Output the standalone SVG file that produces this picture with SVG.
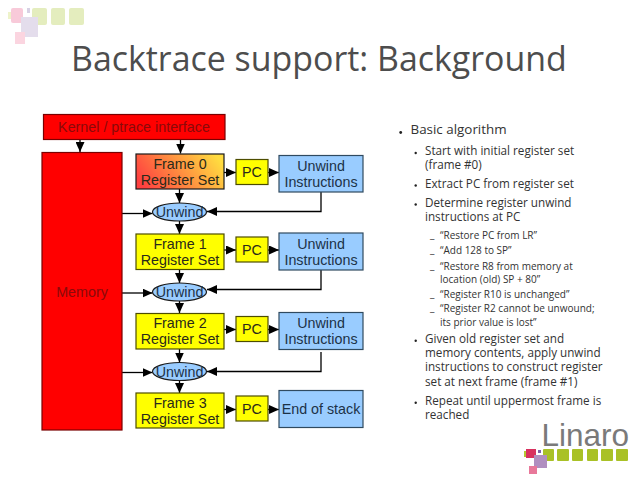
<svg xmlns="http://www.w3.org/2000/svg" width="638" height="479" viewBox="0 0 638 479">
<style>
.n{stroke:#1a1a1a;stroke-width:1.2}
.y{fill:#ffff00;stroke:#4d4d00}
.b{fill:#99ccff;stroke:#2f4a60}
.r{fill:#ff0000;stroke:#7a0000}
.t{font-family:"Liberation Sans",Arial,sans-serif;font-size:14.3px;text-anchor:middle;fill:#2a2a1a}
.rt{fill:#8a0a0a}
.bt{fill:#1c3247}
.c{fill:none;stroke:#000;stroke-width:1.3;marker-end:url(#a)}
.l{font-family:"Open Sans","Noto Sans",sans-serif;fill:#333}
.l1{font-size:13.4px}
.l2{font-size:11.7px}
.l3{font-size:10px}
</style>
<defs>
<marker id="a" markerUnits="userSpaceOnUse" markerWidth="11" markerHeight="9" refX="10" refY="4.5" orient="auto"><path d="M0 0L10 4.5L0 9z" fill="#000"/></marker>
<linearGradient id="g" x1="0" y1="0.65" x2="1" y2="0.35"><stop offset="0" stop-color="#ff4040"/><stop offset="1" stop-color="#ffdc40"/></linearGradient>
</defs>
<rect width="638" height="479" fill="#fff"/>
<g id="logo-top" opacity="0.95">
<rect x="8" y="12" width="5" height="7" fill="#eef3c8"/>
<rect x="32" y="8" width="15" height="17" rx="2" fill="#e3edbb"/>
<rect x="11" y="8" width="12" height="15" rx="2" fill="#f8c8d8"/>
<rect x="51" y="8" width="14" height="17" rx="2" fill="#e3edbb"/>
<rect x="69" y="8" width="15" height="17" rx="2" fill="#e3edbb"/>
<rect x="27" y="8" width="3" height="5" fill="#d5cfe3"/>
<rect x="21" y="17" width="17" height="20" fill="#e3dcec"/>
<rect x="15" y="32" width="10" height="12" fill="#fbd3df"/>
</g>
<text x="71" y="71" font-family="Open Sans, Noto Sans, sans-serif" font-size="33.900px" fill="#4d4d4d" id="title">Backtrace support: Background</text>
<g id="connectors">
<path class="c" d="M80 139.500V152"/>
<path class="c" d="M180.500 139.500V153.500"/>
<path class="c" d="M224 172.500H236"/>
<path class="c" d="M268 172.500H279"/>
<path class="c" d="M179.500 189V203"/>
<path class="c" d="M122 213.500H152.500"/>
<path class="c" d="M321 192V211.500H207"/>
<path class="c" d="M179.500 221V234"/>
<path class="c" d="M224 250H236"/>
<path class="c" d="M268 250H279"/>
<path class="c" d="M179.500 269.500V283"/>
<path class="c" d="M122 293H152.500"/>
<path class="c" d="M321 270V289.500H207"/>
<path class="c" d="M179.500 301V313"/>
<path class="c" d="M224 329.500H236"/>
<path class="c" d="M268 329.500H279"/>
<path class="c" d="M179.500 349V362.500"/>
<path class="c" d="M122 372.500H152.500"/>
<path class="c" d="M321 352V371.500H207"/>
<path class="c" d="M179.500 380.500V393"/>
<path class="c" d="M224 409.500H236"/>
<path class="c" d="M268 409.500H279"/>
</g>
<g id="kernel"><rect class="n r" x="43.500" y="114.500" width="181.500" height="25"/><text class="t rt" x="134" y="132">Kernel / ptrace interface</text></g>
<g id="memory"><rect class="n r" x="42" y="152.500" width="80" height="277.500"/><text class="t rt" x="82" y="297">Memory</text></g>
<g id="frame0"><rect class="n" fill="url(#g)" stroke="#4d4d00" x="136" y="154" width="88" height="35"/><text class="t" x="180" y="169">Frame 0</text><text class="t" x="180" y="185">Register Set</text></g>
<g id="pc0"><rect class="n y" x="236" y="159.500" width="32" height="25"/><text class="t" x="252" y="177">PC</text></g>
<g id="ui0"><rect class="n b" x="279" y="155.500" width="84" height="36.500"/><text class="t bt" x="321" y="171">Unwind</text><text class="t bt" x="321" y="187">Instructions</text></g>
<g id="unwind0"><ellipse class="n" fill="#99ccff" stroke="#1c3247" cx="179.500" cy="212" rx="27" ry="9"/><text class="t bt" x="179.500" y="217">Unwind</text></g>
<g id="frame1"><rect class="n y" x="136" y="234" width="88" height="35.500"/><text class="t" x="180" y="249">Frame 1</text><text class="t" x="180" y="265">Register Set</text></g>
<g id="pc1"><rect class="n y" x="236" y="237" width="32" height="25"/><text class="t" x="252" y="255">PC</text></g>
<g id="ui1"><rect class="n b" x="279" y="233" width="84" height="37"/><text class="t bt" x="321" y="249">Unwind</text><text class="t bt" x="321" y="265">Instructions</text></g>
<g id="unwind1"><ellipse class="n" fill="#99ccff" stroke="#1c3247" cx="179.500" cy="292" rx="27" ry="9"/><text class="t bt" x="179.500" y="297">Unwind</text></g>
<g id="frame2"><rect class="n y" x="136" y="313.500" width="88" height="35.500"/><text class="t" x="180" y="328">Frame 2</text><text class="t" x="180" y="344">Register Set</text></g>
<g id="pc2"><rect class="n y" x="236" y="316.500" width="32" height="25"/><text class="t" x="252" y="334">PC</text></g>
<g id="ui2"><rect class="n b" x="279" y="312.500" width="84" height="37"/><text class="t bt" x="321" y="328">Unwind</text><text class="t bt" x="321" y="344">Instructions</text></g>
<g id="unwind2"><ellipse class="n" fill="#99ccff" stroke="#1c3247" cx="179.500" cy="371.500" rx="27" ry="9"/><text class="t bt" x="179.500" y="376.500">Unwind</text></g>
<g id="frame3"><rect class="n y" x="136" y="393" width="88" height="35"/><text class="t" x="180" y="408">Frame 3</text><text class="t" x="180" y="424">Register Set</text></g>
<g id="pc3"><rect class="n y" x="236" y="396" width="32" height="25"/><text class="t" x="252" y="414">PC</text></g>
<g id="end"><rect class="n b" x="279" y="390.500" width="84" height="37"/><text class="t bt" x="321" y="414">End of stack</text></g>
<g id="bullets">
<g fill="#222">
<circle cx="400.700" cy="132.500" r="1.4"/>
<circle cx="415.700" cy="153" r="1.2"/>
<circle cx="415.700" cy="185.500" r="1.2"/>
<circle cx="415.700" cy="204.500" r="1.2"/>
<circle cx="415.700" cy="340.700" r="1.2"/>
<circle cx="415.700" cy="402.700" r="1.2"/>
</g>
<text class="l l1" x="410.500" y="134">Basic algorithm</text>
<text class="l l2" x="425" y="155">Start with initial register set</text>
<text class="l l2" x="425" y="169">(frame #0)</text>
<text class="l l2" x="425" y="188">Extract PC from register set</text>
<text class="l l2" x="425" y="207">Determine register unwind</text>
<text class="l l2" x="425" y="221">instructions at PC</text>
<text class="l l3" x="430" y="238">_</text><text class="l l3" x="440" y="239">“Restore PC from LR”</text>
<text class="l l3" x="430" y="253">_</text><text class="l l3" x="440" y="254">“Add 128 to SP”</text>
<text class="l l3" x="430" y="269">_</text><text class="l l3" x="440" y="270">“Restore R8 from memory at</text>
<text class="l l3" x="440" y="282.500">location (old) SP + 80”</text>
<text class="l l3" x="430" y="297">_</text><text class="l l3" x="440" y="298">“Register R10 is unchanged”</text>
<text class="l l3" x="430" y="311">_</text><text class="l l3" x="440" y="312">“Register R2 cannot be unwound;</text>
<text class="l l3" x="440" y="326">its prior value is lost”</text>
<text class="l l2" x="425" y="343">Given old register set and</text>
<text class="l l2" x="425" y="357">memory contents, apply unwind</text>
<text class="l l2" x="425" y="371">instructions to construct register</text>
<text class="l l2" x="425" y="386">set at next frame (frame #1)</text>
<text class="l l2" x="425" y="405">Repeat until uppermost frame is</text>
<text class="l l2" x="425" y="419">reached</text>
</g>
<g id="logo-bottom">
<text x="541.500" y="446" font-family="Liberation Sans, Arial, sans-serif" font-size="31.500px" fill="#7a7a7a">Linaro</text>
<rect x="524" y="451" width="4" height="6" fill="#b3c832"/>
<rect x="543" y="449" width="11" height="12" rx="1" fill="#a9c126"/>
<rect x="557" y="449" width="12" height="12" rx="1" fill="#a9c126"/>
<rect x="572" y="449" width="11" height="12" rx="1" fill="#a9c126"/>
<rect x="587" y="449" width="11" height="12" rx="1" fill="#a9c126"/>
<rect x="601" y="449" width="12" height="12" rx="1" fill="#a9c126"/>
<rect x="616" y="449" width="12" height="12" rx="1" fill="#a9c126"/>
<rect x="526" y="449" width="10" height="9" fill="#d8315f"/>
<rect x="538" y="450" width="3" height="3" fill="#7d5fa8"/>
<rect x="534" y="455" width="13" height="13" fill="#b08fc0"/>
<rect x="529" y="466" width="8" height="8" fill="#e8789a"/>
</g>
</svg>
